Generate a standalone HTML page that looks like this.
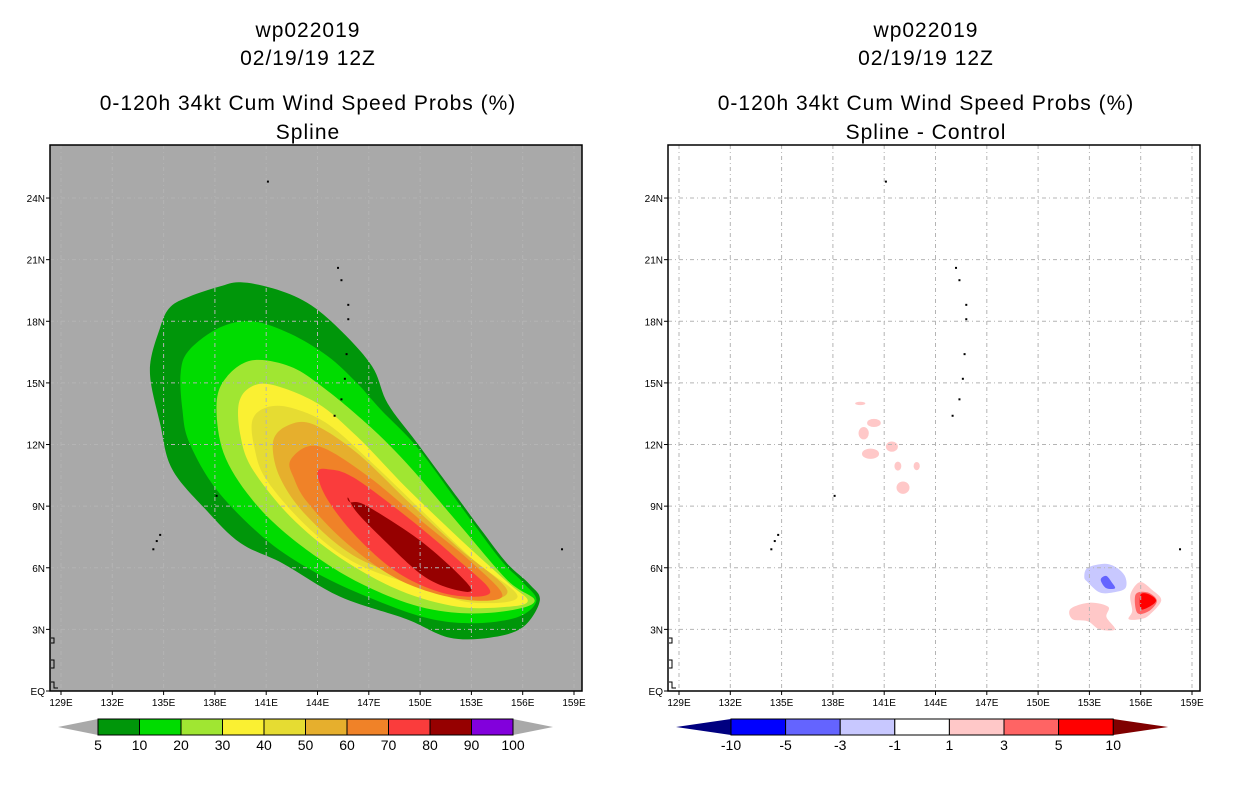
<!DOCTYPE html>
<html><head><meta charset="utf-8"><style>
body{margin:0;background:#fff}
svg{display:block}
text{font-family:"Liberation Sans",sans-serif}
</style></head><body>
<svg id="c" width="1236" height="800" viewBox="0 0 1236 800"></svg>
<script>
// ---- data ----
const lonTicks=[129,132,135,138,141,144,147,150,153,156,159];
const latTicks=[0,3,6,9,12,15,18,21,24];
const latLabels=["EQ","3N","6N","9N","12N","15N","18N","21N","24N"];
const probLevels=[5,10,20,30,40,50,60,70,80];
const probColors=["#00960a","#00dc00","#a0e632","#faf032","#e6dc32","#e6af2d","#f08228","#fa3c3c","#960000"];
const probLabels=["5","10","20","30","40","50","60","70","80","90","100"];
const barColors=["#00960a","#00dc00","#a0e632","#faf032","#e6dc32","#e6af2d","#f08228","#fa3c3c","#960000","#8200dc"];
const p5=[[134.2,15.6],[134.8,17.7],[135.4,18.7],[136.5,19.2],[138.3,19.7],[139.5,19.9],[141.4,19.6],[143.4,18.9],[145.3,17.6],[147.2,15.8],[148.1,14.0],[149.8,12.1],[152.2,9.4],[153.7,7.7],[155.1,6.2],[156.4,5.2],[157.0,4.4],[156.0,3.1],[154.1,2.6],[151.7,2.6],[149.2,3.5],[145.3,4.6],[142.0,6.2],[139.5,7.2],[137.5,8.8],[135.5,10.8],[134.8,13.0]];
const p10=[[136.0,15.5],[136.5,16.6],[138.3,17.7],[140.2,18.0],[142.4,17.4],[144.6,16.3],[146.3,15.0],[147.7,13.7],[149.8,11.9],[152.2,9.2],[154.7,6.4],[156.0,5.3],[156.8,4.4],[155.7,3.6],[153.1,3.3],[150.2,3.6],[146.3,4.8],[143.4,6.0],[140.8,7.5],[138.1,9.8],[136.5,12.1],[136.1,13.7]];
const p20=[[138.1,14.0],[138.7,15.3],[140.2,16.1],[142.4,15.8],[144.3,14.8],[146.9,13.0],[149.2,11.1],[152.2,8.2],[155.1,5.4],[156.7,4.4],[155.1,3.9],[152.2,3.8],[149.2,4.3],[145.7,5.6],[142.4,7.5],[140.1,9.4],[138.5,11.6]];
const p30=[[139.4,14.0],[140.1,14.8],[141.4,14.9],[144.0,14.0],[146.3,12.4],[149.2,9.9],[152.2,7.5],[155.1,5.3],[156.3,4.4],[155.1,4.1],[152.2,4.1],[148.8,4.9],[145.3,6.5],[142.4,8.5],[140.2,10.8],[139.5,12.4]];
const p40=[[140.2,13.2],[141.0,13.8],[142.4,13.8],[144.6,13.0],[147.2,11.1],[150.2,8.7],[153.1,6.4],[155.7,4.6],[153.1,4.3],[150.6,4.9],[146.3,6.2],[143.4,8.0],[141.0,10.3],[140.3,11.9]];
const p50=[[141.4,12.1],[142.2,12.9],[143.7,13.0],[146.3,11.6],[149.2,9.3],[152.2,7.0],[155.1,4.9],[153.1,4.4],[150.6,5.1],[146.3,6.5],[143.4,8.5],[141.8,10.4]];
const p60=[[142.4,11.2],[143.4,11.9],[144.7,11.7],[147.2,10.3],[150.2,8.2],[153.1,6.2],[154.8,4.6],[152.2,4.5],[148.8,5.4],[145.7,7.2],[143.4,9.2],[142.6,10.4]];
const p70=[[144.0,10.6],[144.6,10.8],[146.1,10.4],[149.2,8.5],[152.2,6.4],[154.1,4.8],[151.7,4.7],[148.8,5.7],[146.3,7.5],[144.6,9.3]];
const p80=[[145.8,9.4],[145.9,9.2],[146.9,9.0],[150.2,7.2],[152.9,5.1],[152.2,4.9],[150.2,5.6],[147.7,7.5],[146.3,8.7]];
const probPolys=[p5,p10,p20,p30,p40,p50,p60,p70,p80];
// difference field
const diffLabels=["-10","-5","-3","-1","1","3","5","10"];
const diffColors=["#0000ff","#6464ff","#c8c8ff","#ffffff","#ffc8c8","#ff6464","#ff0000"];
const dBlueLight=[[152.7,5.55],[152.9,6.0],[153.9,6.2],[154.6,6.0],[155.1,5.55],[155.1,5.0],[154.4,4.8],[153.6,4.8],[152.9,5.3]];
const dBlueMid=[[153.7,5.5],[154.0,5.6],[154.3,5.3],[154.5,5.0],[154.0,5.0],[153.7,5.3]];
const dPinkA=[[155.4,4.7],[155.96,5.3],[156.7,4.9],[157.2,4.4],[156.5,3.7],[156.0,3.5],[155.3,3.5],[155.5,3.9]];
const dSalmon=[[155.7,4.7],[156.4,4.8],[156.95,4.4],[156.5,3.9],[155.8,3.8]];
const dRed=[[156.0,4.7],[156.5,4.7],[156.9,4.4],[156.5,4.1],[156.0,4.0]];
const dPinkB=[[151.9,4.0],[153.0,4.3],[154.1,4.1],[154.0,3.6],[154.5,3.0],[153.6,3.0],[152.9,3.4],[152.0,3.5]];
const diffPolys=[dBlueLight,dBlueMid,dPinkA,dPinkB,dSalmon,dRed];
const diffPolyVals=[-1,-3,1,1,3,5];
const spotLon=[139.6,140.4,139.8,141.45,140.2,141.8,142.9,142.1];
const spotLat=[14.0,13.05,12.55,11.9,11.55,10.95,10.95,9.9];
const spotRx=[0.3,0.4,0.3,0.35,0.5,0.2,0.18,0.38];
const spotRy=[0.08,0.2,0.3,0.25,0.25,0.22,0.2,0.3];
const islandLon=[141.1,145.2,145.4,145.8,145.8,145.7,145.6,145.4,145.0,138.1,134.8,134.6,134.4,158.3];
const islandLat=[24.8,20.6,20.0,18.8,18.1,16.4,15.2,14.2,13.4,9.5,7.6,7.3,6.9,6.9];
// ---- layout ----
const NS="http://www.w3.org/2000/svg";
const svg=document.getElementById('c');
function el(t,a,p){const e=document.createElementNS(NS,t);for(const k in a)e.setAttribute(k,a[k]);(p||svg).appendChild(e);return e;}
function txt(s,x,y,size,anchor,p){const t=el('text',{x:x,y:y,'font-size':size,'text-anchor':anchor||'middle',fill:'#000'},p);t.textContent=s;return t;}
const top0=145,bot0=691;
function mkMap(x0){
  return {x:lon=>x0+11+(lon-129)*17.1, y:lat=>691-lat*20.54, x0:x0};
}
function smooth(m,pts){
  const P=pts.map(p=>[m.x(p[0]),m.y(p[1])]);const n=P.length;
  let d='M'+P[0][0].toFixed(1)+' '+P[0][1].toFixed(1);
  for(let i=0;i<n;i++){
    const p0=P[(i-1+n)%n],p1=P[i],p2=P[(i+1)%n],p3=P[(i+2)%n];
    const c1=[p1[0]+(p2[0]-p0[0])/6,p1[1]+(p2[1]-p0[1])/6];
    const c2=[p2[0]-(p3[0]-p1[0])/6,p2[1]-(p3[1]-p1[1])/6];
    d+=` C${c1[0].toFixed(1)} ${c1[1].toFixed(1)} ${c2[0].toFixed(1)} ${c2[1].toFixed(1)} ${p2[0].toFixed(1)} ${p2[1].toFixed(1)}`;
  }
  return d+'Z';
}
function drawFrame(m,bg,g){
  const r=el('rect',{x:m.x0,y:top0,width:532,height:bot0-top0,fill:bg},g);
  
  
}
function drawGridAxes(m,g){
  const gg=el('g',{stroke:'#b4b4b4','stroke-width':1,'stroke-dasharray':'4,3,1,3'},g);
  
  
  lonTicks.forEach(l=>el('line',{x1:m.x(l),x2:m.x(l),y1:top0,y2:bot0},gg));
  latTicks.forEach(l=>el('line',{x1:m.x0,x2:m.x0+532,y1:m.y(l),y2:m.y(l)},gg));
  const ax=el('g',{},g);
  
  
  lonTicks.forEach(l=>{el('line',{x1:m.x(l),x2:m.x(l),y1:bot0,y2:bot0+4,stroke:'#000'},ax);txt(l+'E',m.x(l),706,10,'middle',ax);});
  latTicks.forEach((l,i)=>{el('line',{x1:m.x0-4,x2:m.x0,y1:m.y(l),y2:m.y(l),stroke:'#000'},ax);txt(latLabels[i],m.x0-5,m.y(l)+4,10,'end',ax);});
  el('rect',{x:m.x0,y:top0,width:532,height:bot0-top0,fill:'none',stroke:'#000','stroke-width':1.5},ax);
  const isl=el('g',{fill:'#000'},g);
  
  
  islandLon.forEach((lo,i)=>el('rect',{x:m.x(lo)-1,y:m.y(islandLat[i])-1,width:2,height:2},isl));
  el('path',{d:`M${m.x0+1} 638 h3 v5 h-3 M${m.x0+1} 660 h3 v8 h-3 M${m.x0+1} 682 h3 v6 h4`,stroke:'#000',fill:'none'},isl);
}
// Left panel
const L=mkMap(50);
const gL=el('g',{});


drawFrame(L,'#a9a9a9',gL);
probPolys.forEach((pts,i)=>{
  const p=el('path',{d:smooth(L,pts),fill:probColors[i]},gL);
  
  
});
drawGridAxes(L,gL);
[["wp022019",37],["02/19/19 12Z",65],["0-120h 34kt Cum Wind Speed Probs (%)",110],["Spline",139]].forEach(a=>{
  const t=txt(a[0],308,a[1],21,'middle',gL);
  t.setAttribute('letter-spacing','1');
  
  
});
// left colorbar
const cb=el('g',{},gL);


const bx0=98,bw=41.5,by=719,bh=16;
el('polygon',{points:`58,${by+bh/2} ${bx0},${by} ${bx0},${by+bh}`,fill:'#a9a9a9'},cb);
el('polygon',{points:`${bx0+10*bw},${by} ${bx0+10*bw+40},${by+bh/2} ${bx0+10*bw},${by+bh}`,fill:'#a9a9a9'},cb);
barColors.forEach((c,i)=>el('rect',{x:bx0+i*bw,y:by,width:bw,height:bh,fill:c,stroke:'#000','stroke-width':1},cb));
probLabels.forEach((s,i)=>txt(s,bx0+i*bw,750,14,'middle',cb));
// Right panel
const R=mkMap(668);
const gR=el('g',{});


drawFrame(R,'#ffffff',gR);
const colorOf=v=>v<=-5?diffColors[0]:v<=-3?diffColors[1]:v<=-1?diffColors[2]:v<1?diffColors[3]:v<3?diffColors[4]:v<5?diffColors[5]:diffColors[6];
diffPolys.forEach((pts,i)=>{
  const p=el('path',{d:smooth(R,pts),fill:colorOf(diffPolyVals[i])},gR);
  
  
});
spotLon.forEach((lo,i)=>{
  const e=el('ellipse',{cx:R.x(lo),cy:R.y(spotLat[i]),rx:spotRx[i]*17.1,ry:spotRy[i]*20.54,fill:diffColors[4]},gR);
  
  
});
drawGridAxes(R,gR);
[["wp022019",37],["02/19/19 12Z",65],["0-120h 34kt Cum Wind Speed Probs (%)",110],["Spline - Control",139]].forEach(a=>{
  const t=txt(a[0],926,a[1],21,'middle',gR);
  t.setAttribute('letter-spacing','1');
  
  
});
const cb2=el('g',{},gR);


const rx0=731,rw=54.6;
el('polygon',{points:`676,${by+bh/2} ${rx0},${by} ${rx0},${by+bh}`,fill:'#000080'},cb2);
el('polygon',{points:`${rx0+7*rw},${by} ${rx0+7*rw+55},${by+bh/2} ${rx0+7*rw},${by+bh}`,fill:'#800000'},cb2);
diffColors.forEach((c,i)=>el('rect',{x:rx0+i*rw,y:by,width:rw,height:bh,fill:c,stroke:'#000','stroke-width':1},cb2));
diffLabels.forEach((s,i)=>txt(s,rx0+i*rw,750,14,'middle',cb2));
</script>
</body></html>
